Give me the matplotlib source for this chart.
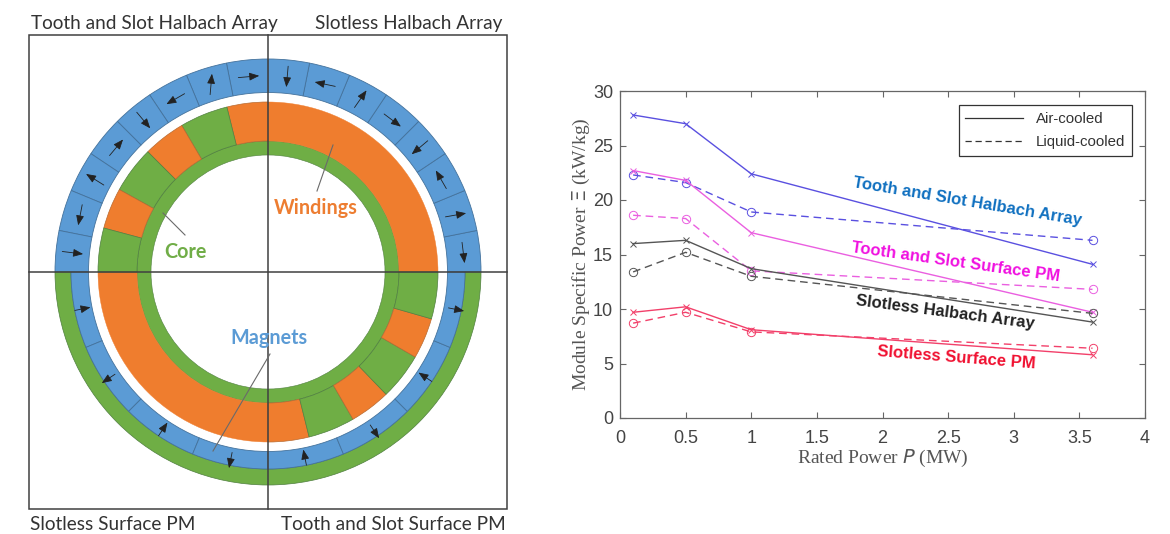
import numpy as np
import matplotlib
matplotlib.use("Agg")
import matplotlib.pyplot as plt
from matplotlib.patches import Wedge, Rectangle
from matplotlib.lines import Line2D

# ---------- chart data ----------
power_mw = [0.1, 0.5, 1.0, 3.6]
ts_halbach_air = [27.8, 27.0, 22.4, 14.1]
ts_halbach_liq = [22.3, 21.6, 18.9, 16.3]
ts_surface_air = [22.7, 21.8, 17.0, 9.7]
ts_surface_liq = [18.6, 18.3, 13.5, 11.8]
sl_halbach_air = [16.0, 16.3, 13.7, 8.8]
sl_halbach_liq = [13.4, 15.2, 13.0, 9.6]
sl_surface_air = [9.7, 10.2, 8.1, 5.8]
sl_surface_liq = [8.7, 9.7, 7.9, 6.4]
x_ticks = [0, 0.5, 1, 1.5, 2, 2.5, 3, 3.5, 4]
x_tick_labels = ["0", "0.5", "1", "1.5", "2", "2.5", "3", "3.5", "4"]
y_ticks = [0, 5, 10, 15, 20, 25, 30]

# ---------- diagram data ----------
halbach_dirs_tl = [5, 85, 210, 310, 50, 148, 259, 353]      # 90 -> 180 deg
halbach_dirs_tr = [277, 10, 120, 220, 323, 55, 168, 265]    # 0 -> 90 deg
tooth_edges_tl = [104, 120.5, 135, 151, 165, 180]
tooth_edges_br = [284, 300, 314, 330, 344, 360]

GREEN, ORANGE, BLUE = "#6fae45", "#ef7d2e", "#5b9bd5"
EDGE = "#4f7f3f"
INK = "#404040"

fig = plt.figure(figsize=(11.7, 5.34), dpi=100)
bg = fig.add_axes([0, 0, 1, 1])
bg.set_xlim(0, 1170)
bg.set_ylim(0, 534)
bg.axis("off")

H = 534
cx, cy = 268, H - 272
R_CORE_IN, R_CORE_OUT, R_WIND = 117, 131, 170
R_MAG_IN, R_MAG_MID, R_ROT = 179.5, 197, 213


def ring(t1, t2, r_out, r_in, color, lw=0.5, ec=EDGE):
    bg.add_patch(Wedge((cx, cy), r_out, t1, t2, width=r_out - r_in, fc=color,
                       ec=ec, lw=lw, zorder=2))


# magnets, upper half (Halbach)
for i in range(16):
    t1 = i * 11.25
    ring(t1, t1 + 11.25, R_ROT, R_MAG_IN, BLUE, ec="#44729c", lw=0.6)
# lower half: back iron + magnets
ring(180, 360, R_ROT, R_MAG_MID, GREEN)
for i in range(8):
    t1 = 180 + i * 22.5
    ring(t1, t1 + 22.5, R_MAG_MID, R_MAG_IN, BLUE, ec="#44729c", lw=0.6)

# stator core
ring(0, 360, R_CORE_OUT, R_CORE_IN, GREEN, lw=0.4)
# windings: slotless quadrants
ring(0, 90, R_WIND, R_CORE_OUT, ORANGE, lw=0.3, ec=ORANGE)
ring(180, 270, R_WIND, R_CORE_OUT, ORANGE, lw=0.3, ec=ORANGE)
# tooth and slot quadrants
for start, edges, first in ((90, tooth_edges_tl, ORANGE), (270, tooth_edges_br, ORANGE)):
    prev = start
    colour = first
    for e in edges:
        ring(prev, e, R_WIND, R_CORE_OUT, colour, lw=0.5,
             ec=EDGE if colour == GREEN else "#b86a30")
        colour = GREEN if colour == ORANGE else ORANGE
        prev = e


def arrow(x0, y0, x1, y1):
    bg.annotate("", xy=(x1, y1), xytext=(x0, y0), zorder=5,
                arrowprops=dict(arrowstyle="-|>,head_width=0.22,head_length=0.55", color="#222222",
                                lw=0.6, mutation_scale=11, shrinkA=0, shrinkB=0))


r_mid = (R_MAG_IN + R_ROT) / 2
for start, dirs in ((90, halbach_dirs_tl), (0, halbach_dirs_tr)):
    for i, d in enumerate(dirs):
        th = np.radians(start + (i + 0.5) * 11.25)
        mx, my = cx + r_mid * np.cos(th), cy + r_mid * np.sin(th)
        dx, dy = 10.5 * np.cos(np.radians(d)), 10.5 * np.sin(np.radians(d))
        arrow(mx - dx, my - dy, mx + dx, my + dy)

# radial arrows in lower half: alternating inward/outward
for start in (180, 270):
    for i in range(4):
        th = np.radians(start + (i + 0.5) * 22.5)
        c, s = np.cos(th), np.sin(th)
        r_a, r_b = (197, 181) if i % 2 == 0 else (184, 200)
        arrow(cx + r_a * c, cy + r_a * s, cx + r_b * c, cy + r_b * s)

# frame and cross hair
bg.add_patch(Rectangle((29, H - 509), 478, 474, fc="none", ec="#404040", lw=1.1, zorder=6))
bg.plot([268, 268], [H - 35, H - 509], color="#404040", lw=1.1, zorder=6)
bg.plot([29, 507], [H - 272, H - 272], color="#404040", lw=1.1, zorder=6)

# leader lines
for (x0, y0, x1, y1) in ((333, 145, 317, 191), (163, 213, 185, 235), (270, 354, 213, 451)):
    bg.plot([x0, x1], [H - y0, H - y1], color="#6a6a6a", lw=0.8, zorder=7)

# diagram texts
title_font = dict(family="Lato", fontsize=13.7, color="#333333", zorder=8)
bg.text(31, H - 23, "Tooth and Slot Halbach Array", ha="left", va="center", **title_font)
bg.text(315, H - 24, "Slotless Halbach Array", ha="left", va="center", **title_font)
bg.text(30, H - 524, "Slotless Surface PM", ha="left", va="center", **title_font)
bg.text(281, H - 525, "Tooth and Slot Surface PM", ha="left", va="center", **title_font)
lab_font = dict(family="Lato", fontsize=14.2, fontweight="bold", ha="center", va="center", zorder=8)
bg.text(185, H - 252, "Core", color="#70ad47", **lab_font)
bg.text(316, H - 208, "Windings", color="#ed7d31", **lab_font)
bg.text(269, H - 338, "Magnets", color="#5b9bd5", **lab_font)

# ---------- chart ----------
ax = fig.add_axes([620 / 1170, 1 - 418 / 534, 525 / 1170, 327 / 534])
ax.patch.set_alpha(0)
series = [
    (ts_halbach_air, ts_halbach_liq, "#5a50e0"),
    (ts_surface_air, ts_surface_liq, "#ea5fe0"),
    (sl_halbach_air, sl_halbach_liq, "#555555"),
    (sl_surface_air, sl_surface_liq, "#f2406a"),
]
for air, liq, col in series:
    ax.plot(power_mw, air, "-", color=col, lw=1.0, marker="x", ms=5, mew=0.7)
    ax.plot(power_mw, liq, color=col, lw=1.0, ls=(0, (5.5, 3.5)), marker="o", ms=6,
            mew=0.7, mfc="none")

ax.set_xlim(0, 4)
ax.set_ylim(0, 30)
ax.set_xticks(x_ticks)
ax.set_xticklabels(x_tick_labels)
ax.set_yticks(y_ticks)
ax.tick_params(direction="in", top=True, right=True, length=4, width=0.8, color="#666666",
               labelcolor="#444444", labelsize=13)
for lab in ax.get_xticklabels() + ax.get_yticklabels():
    lab.set_family("Liberation Sans")
ax.tick_params(axis="x", pad=8.5)
ax.tick_params(axis="y", pad=5)
for sp in ax.spines.values():
    sp.set_color("#666666")
    sp.set_linewidth(0.9)

plt.rcParams["mathtext.fontset"] = "stix"
ax.set_xlabel(r"Rated Power $P$ (MW)", family="Liberation Serif", fontsize=14, color="#555555", labelpad=0.5)
ax.set_ylabel(r"Module Specific Power $\Xi$ (kW/kg)", family="Liberation Serif", fontsize=14,
              color="#555555", labelpad=1)

handles = [Line2D([], [], color="#333333", lw=0.9),
           Line2D([], [], color="#333333", lw=0.9, ls=(0, (5, 3)))]
leg = ax.legend(handles, ["Air-cooled", "Liquid-cooled"], loc="upper right",
                bbox_to_anchor=((1132 - 620) / 525, (418 - 105) / 327), borderaxespad=0,
                fancybox=False, framealpha=1, edgecolor="#333333", handlelength=3.85,
                handletextpad=0.85, labelspacing=0.6, borderpad=0.45,
                prop=dict(family="Liberation Sans", size=10.8))
leg.get_frame().set_linewidth(0.9)
for t in leg.get_texts():
    t.set_color("#333333")

label_font = dict(family="Liberation Sans", fontweight="bold", fontsize=12, ha="center", va="center",
                  rotation_mode="anchor")
ax.text(2.65, 19.8, "Tooth and Slot Halbach Array", color="#1070c0", rotation=-9.5, **label_font)
ax.text(2.56, 14.3, "Tooth and Slot Surface PM", color="#f010e0", rotation=-8, **label_font)
ax.text(2.48, 9.7, "Slotless Halbach Array", color="#222222", rotation=-7.5, **label_font)
ax.text(2.56, 5.5, "Slotless Surface PM", color="#f01030", rotation=-4.5, **label_font)

fig.savefig("out.png", dpi=100)
